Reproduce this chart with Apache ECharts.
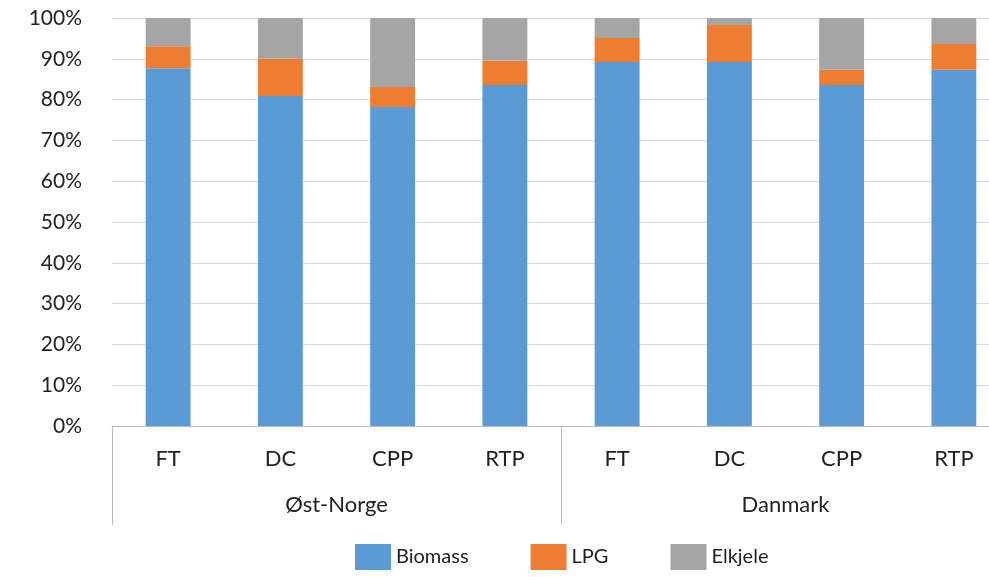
<!DOCTYPE html>
<html>
<head>
<meta charset="utf-8">
<script src="https://cdn.jsdelivr.net/npm/echarts@6/dist/echarts.min.js"></script>
<style>html,body{margin:0;background:#fff;overflow:hidden}</style>
</head>
<body>
<div id="main" style="width:1011px;height:577px;"></div>
<script>
var categories = ['FT', 'DC', 'CPP', 'RTP', 'FT', 'DC', 'CPP', 'RTP'];
var groups = ['Øst-Norge', 'Danmark'];
var biomass = [87.7, 80.9, 78.2, 83.6, 89.2, 89.2, 83.6, 87.3];
var lpg = [5.4, 9.1, 4.9, 5.9, 5.9, 9.1, 3.7, 6.3];
var elkjele = biomass.map(function (b, i) { return +(100 - b - lpg[i]).toFixed(1); });

var font = 'Lato, "Noto Sans", sans-serif';
var chart = echarts.init(document.getElementById('main'));
function bar(name, data, color) {
    return { name: name, type: 'bar', stack: 'a', data: data, barWidth: '40%',
        itemStyle: { color: color } };
}
chart.setOption({
    animation: false,
    textStyle: { fontFamily: font },
    grid: { left: 112, right: 1, top: 18, bottom: 151 },
    legend: {
        bottom: 2, left: 350, itemWidth: 36, itemHeight: 26, itemGap: 62,
        icon: 'rect',
        textStyle: { fontSize: 20, color: '#222', fontFamily: font },
        data: ['Biomass', 'LPG', 'Elkjele']
    },
    xAxis: [{
        type: 'category', data: categories,
        axisLine: { show: true, lineStyle: { color: '#bbb' } },
        axisTick: { show: false },
        axisLabel: { fontSize: 22, color: '#222', margin: 22 }
    }, {
        type: 'category', data: groups, position: 'bottom',
        axisLine: { show: false },
        axisTick: { show: true, length: 99, lineStyle: { color: '#bbb' } },
        axisLabel: { fontSize: 22, color: '#222', margin: 68 }
    }],
    yAxis: {
        type: 'value', min: 0, max: 100, interval: 10,
        axisLabel: { formatter: '{value}%', fontSize: 21, color: '#222', margin: 30 },
        splitLine: { lineStyle: { color: '#d9d9d9' } },
        axisLine: { show: false }, axisTick: { show: false }
    },
    series: [
        bar('Biomass', biomass, '#5b9bd5'),
        bar('LPG', lpg, '#ed7d31'),
        bar('Elkjele', elkjele, '#a5a5a5')
    ]
});
</script>
</body>
</html>
